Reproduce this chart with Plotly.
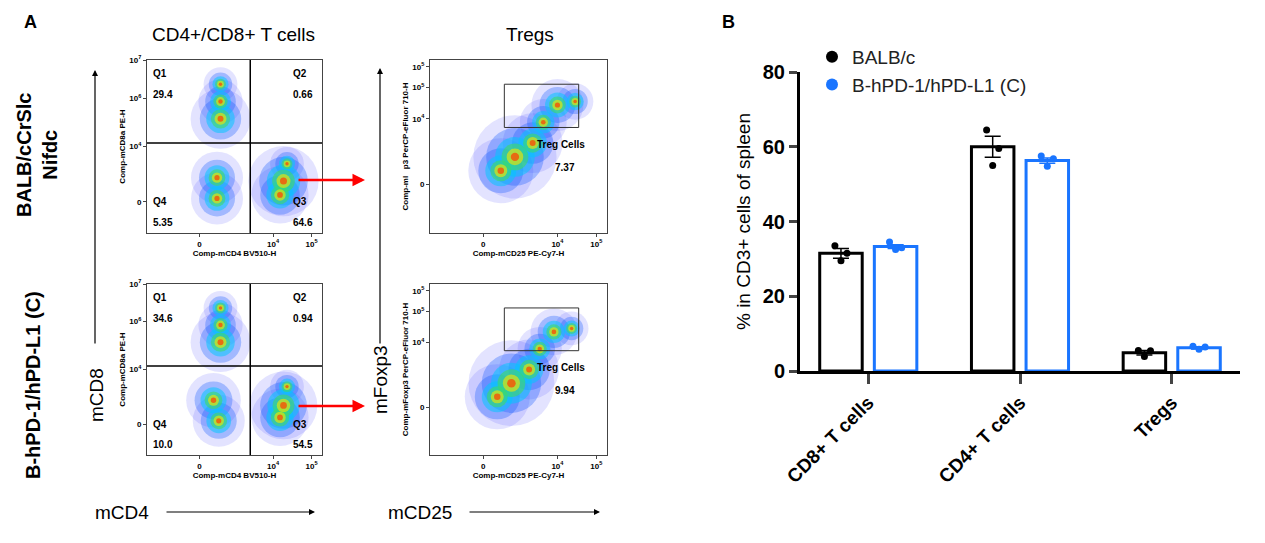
import plotly.graph_objects as go

W, H = 1265, 543
OX, OY = 8, 8  # page body margin

# ---- panel B data ----
cats = ["CD8+ T cells", "CD4+ T cells", "Tregs"]
balb_mean = [31.5, 60.0, 4.9]
balb_sem = [1.3, 2.8, 0.6]
balb_pts = [[33.5, 29.5, 31.5], [64.5, 55.0, 59.5], [5.5, 3.9, 5.4]]
hpd_mean = [33.3, 56.3, 6.2]
hpd_sem = [0.5, 0.7, 0.3]
hpd_pts = [[34.5, 32.5, 33.0], [57.5, 54.8, 56.8], [6.6, 5.8, 6.4]]
jitter = [-0.04, 0.0, 0.04]

# ---- panel A data: population blobs (x, y, size) in 0-100 plot units ----
cd48_top = [(42, 86, 26), (42, 76, 34), (42, 66, 46), (40, 32, 40), (40, 20, 40), (76, 22, 44), (78, 30, 54), (80, 40, 26)]
cd48_bot = [(42, 86, 26), (42, 76, 34), (42, 66, 46), (38, 32, 42), (41, 20, 40), (76, 22, 44), (78, 29, 52), (80, 40, 26)]
treg_top = [(40, 36, 50), (48, 44, 64), (58, 52, 46), (64, 64, 36), (72, 74, 40), (82, 76, 28)]
treg_bot = [(38, 34, 50), (46, 42, 66), (56, 50, 46), (62, 62, 34), (70, 72, 36), (80, 74, 26)]
quad_top = ["29.4", "0.66", "5.35", "64.6"]
quad_bot = ["34.6", "0.94", "10.0", "54.5"]
treg_pct = ["7.37", "9.94"]

def px(x0, x1, y0, y1):
    return [(x0 - OX) / W, (x1 - OX) / W], [1 - (y1 - OY) / H, 1 - (y0 - OY) / H]

fig = go.Figure()
layers = [(1.3, "rgba(60,60,255,0.2)"), (0.9, "rgba(20,90,255,0.45)"), (0.62, "rgba(0,200,255,0.75)"),
          (0.42, "rgba(60,220,100,0.85)"), (0.26, "rgba(240,230,0,0.9)"), (0.13, "rgba(255,60,0,1)")]

panels = [
    ("x2", "y2", px(147, 322, 60, 233), cd48_top, "cd"),
    ("x3", "y3", px(147, 322, 284, 455), cd48_bot, "cd"),
    ("x4", "y4", px(430, 607, 60, 233), treg_top, "treg"),
    ("x5", "y5", px(430, 607, 284, 455), treg_bot, "treg"),
]
shapes, annos = [], []
lay = {}
for i, (xa, ya, (dx, dy), blobs, kind) in enumerate(panels):
    n = xa[1:]
    for f, c in layers:
        fig.add_trace(go.Scatter(
            x=[b[0] for b in blobs], y=[b[1] for b in blobs], mode="markers",
            marker=dict(size=[b[2] * f for b in blobs], color=c, line_width=0),
            xaxis=xa, yaxis=ya, showlegend=False, hoverinfo="skip"))
    ax = dict(range=[0, 100], showgrid=False, zeroline=False, showline=True, mirror=True,
              linecolor="#444", linewidth=1, ticks="outside", ticklen=3)
    xt = dict(tickvals=[30, 72, 94], ticktext=["0", "10<sup>4</sup>", "10<sup>5</sup>"])
    if kind == "cd":
        yt = dict(tickvals=[18, 50, 78, 100], ticktext=["0", "10<sup>4</sup>", "10<sup>6</sup>", "10<sup>7</sup>"])
        xtit, ytit = "Comp-mCD4 BV510-H", "Comp-mCD8a PE-H"
    else:
        yt = dict(tickvals=[28, 66, 84, 96], ticktext=["0", "10<sup>4</sup>", "10<sup>5</sup>", "10<sup>5</sup>"])
        xtit, ytit = "Comp-mCD25 PE-Cy7-H", ("Comp-ml   p3 PerCP-eFluor 710-H" if i == 2 else "Comp-mFoxp3 PerCP-eFluor 710-H")
    tf = dict(size=8, family="Arial", color="black", weight="bold")
    lay["xaxis" + n] = dict(ax, domain=dx, anchor=ya, **xt, tickfont=tf, title=dict(text=xtit, font=tf, standoff=2))
    lay["yaxis" + n] = dict(ax, domain=dy, anchor=xa, **yt, tickfont=tf, title=dict(text=ytit, font=tf, standoff=2))
    bf = dict(size=10, family="Arial", color="black", weight="bold")
    if kind == "cd":
        shapes += [dict(type="line", xref=xa, yref=ya, x0=59, x1=59, y0=0, y1=100, line=dict(color="black", width=1.5)),
                   dict(type="line", xref=xa, yref=ya, x0=0, x1=100, y0=52, y1=52, line=dict(color="black", width=1.5))]
        q = quad_top if i == 0 else quad_bot
        for (tx, ty, t) in [(2, 92, "Q1"), (2, 80, q[0]), (82, 92, "Q2"), (82, 80, q[1]),
                            (2, 18, "Q4"), (2, 6, q[2]), (82, 18, "Q3"), (82, 6, q[3])]:
            annos.append(dict(x=tx, y=ty, xref=xa, yref=ya, text=t, showarrow=False, xanchor="left", font=bf))
    else:
        shapes.append(dict(type="rect", xref=xa, yref=ya, x0=42, x1=84, y0=61, y1=86, line=dict(color="#333", width=1)))
        p = treg_pct[0] if i == 2 else treg_pct[1]
        annos += [dict(x=74, y=51, xref=xa, yref=ya, text="Treg Cells", showarrow=False, font=bf),
                  dict(x=76, y=38, xref=xa, yref=ya, text=p, showarrow=False, font=bf)]

# ---- panel B ----
xs = list(range(len(cats)))
off = 0.18
fig.add_trace(go.Bar(x=[v - off for v in xs], y=balb_mean, width=0.28, marker=dict(color="white", line=dict(color="black", width=3)),
                     error_y=dict(type="data", array=balb_sem, color="black", thickness=1.5, width=8), showlegend=False))
fig.add_trace(go.Bar(x=[v + off for v in xs], y=hpd_mean, width=0.28, marker=dict(color="white", line=dict(color="#1a75ff", width=3)),
                     error_y=dict(type="data", array=hpd_sem, color="#1a75ff", thickness=1.5, width=8), showlegend=False))
for pts, sgn, col, name in [(balb_pts, -1, "black", "BALB/c"), (hpd_pts, 1, "#1a75ff", "B-hPD-1/hPD-L1 (C)")]:
    fig.add_trace(go.Scatter(
        x=[v + sgn * off + j for v, ps in zip(xs, pts) for j in jitter],
        y=[p for ps in pts for p in ps], mode="markers", name=name,
        marker=dict(color=col, size=7)))

xd, yd = px(800, 1240, 72, 371)
lay["xaxis"] = dict(domain=xd, range=[-0.45, 2.45], tickvals=xs, ticktext=cats, tickangle=-45,
                    showline=True, linecolor="black", linewidth=3, ticks="outside", ticklen=10, tickwidth=3,
                    tickfont=dict(size=19, family="Arial", color="black", weight="bold"), showgrid=False, zeroline=False)
lay["yaxis"] = dict(domain=yd, range=[0, 80], tickvals=[0, 20, 40, 60, 80],
                    showline=True, linecolor="black", linewidth=3, ticks="outside", ticklen=8, tickwidth=3,
                    tickfont=dict(size=20, family="Arial", color="black", weight="bold"), showgrid=False, zeroline=False,
                    title=dict(text="% in CD3+ cells of spleen", font=dict(size=19, family="Arial", color="black"), standoff=8))

fnt = lambda s, b=False: dict(size=s, family="Arial", color="black", weight="bold" if b else "normal")
def pa(x, y, t, s, b=False, ang=0, xa="center"):
    annos.append(dict(x=(x - OX) / W, y=1 - (y - OY) / H, xref="paper", yref="paper", text=t, showarrow=False,
                      font=fnt(s, b), textangle=ang, xanchor=xa, yanchor="middle"))
pa(30, 22, "A", 18, True)
pa(728, 22, "B", 18, True)
pa(233, 35, "CD4+/CD8+ T cells", 19)
pa(530, 35, "Tregs", 19)
pa(37, 155, "BALB/cCrSlc<br>Nifdc", 20, True, -90)
pa(33, 385, "B-hPD-1/hPD-L1 (C)", 20, True, -90)
pa(96, 395, "mCD8", 19, False, -90)
pa(380, 380, "mFoxp3", 19, False, -90)
pa(122, 512, "mCD4", 19)
pa(420, 512, "mCD25", 19)

def arrow(x0, y0, x1, y1, col="black", w=1.2):
    annos.append(dict(x=(x1 - OX) / W, y=1 - (y1 - OY) / H, ax=x0 - x1, ay=y0 - y1, xref="paper", yref="paper",
                      axref="pixel", ayref="pixel", text="", showarrow=True, arrowhead=2, arrowsize=1,
                      arrowwidth=w, arrowcolor=col))
arrow(95, 345, 95, 70)
arrow(380, 345, 380, 68)
arrow(165, 512, 315, 512)
arrow(468, 512, 600, 512)
arrow(297, 180, 365, 180, "red", 2.5)
arrow(297, 406, 365, 406, "red", 2.5)

fig.update_layout(width=W, height=H, margin=dict(l=0, r=0, t=0, b=0, autoexpand=False), plot_bgcolor="white",
                  paper_bgcolor="white", shapes=shapes, annotations=annos, barmode="overlay",
                  legend=dict(x=(812 - OX) / W, y=1 - (38 - OY) / H, xanchor="left", yanchor="top",
                              font=dict(size=19, family="Arial", color="#222"), itemsizing="constant",
                              tracegroupgap=12, bgcolor="rgba(0,0,0,0)"),
                  **lay)
fig.write_html("out.html")
